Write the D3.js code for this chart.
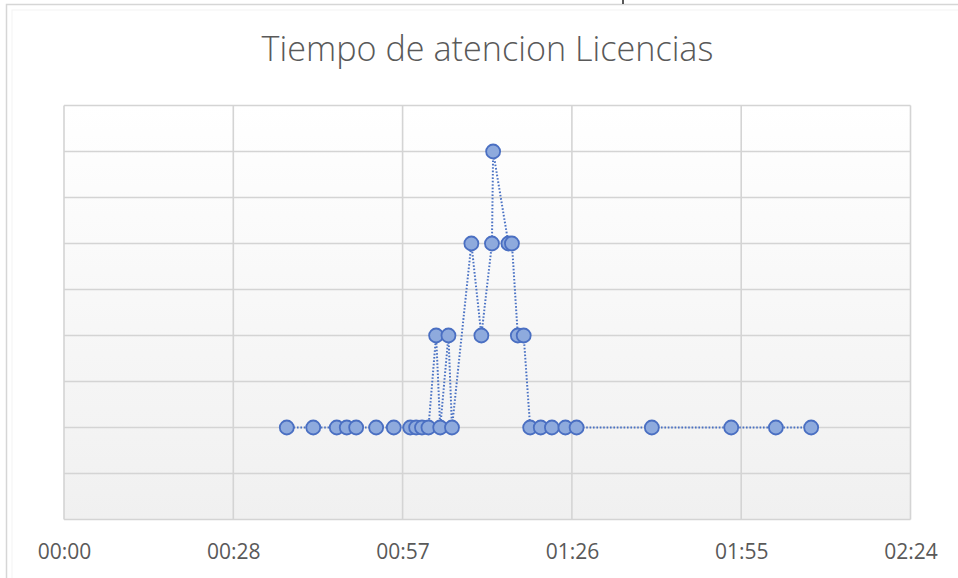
<!DOCTYPE html>
<html>
<head>
<meta charset="utf-8">
<script src="https://cdn.jsdelivr.net/npm/d3@7"></script>
<style>
  html, body { margin: 0; padding: 0; background: #fff; }
  svg { display: block; }
</style>
</head>
<body>
<svg id="chart" width="958" height="578"></svg>
<script>
// ---- Data (minutes since 00:00, and value) ----
const title = "Tiempo de atencion Licencias";
const times = [37.9, 42.4, 46.4, 48.1, 49.7, 53.1, 56.1, 58.9, 59.9, 60.9, 62.0,
               63.3, 64.0, 65.4, 66.0, 69.3, 71.0, 72.8, 73.0, 75.6, 76.2, 77.2,
               78.2, 79.3, 81.1, 83.0, 85.3, 87.2, 100.0, 113.5, 121.1, 127.1];
const values = [1, 1, 1, 1, 1, 1, 1, 1, 1, 1, 1,
                2, 1, 2, 1, 3, 2, 3, 4, 3, 3, 2,
                2, 1, 1, 1, 1, 1, 1, 1, 1, 1];
const xTickValues = [0, 28.8, 57.6, 86.4, 115.2, 144];
const xTickLabels = ["00:00", "00:28", "00:57", "01:26", "01:55", "02:24"];
const yMax = 4.5;
const yStep = 0.5;

const data = times.map((t, i) => ({ t, v: values[i] }));

const svg = d3.select("#chart");
const W = 958, H = 578;
const plot = { left: 64, right: 910.5, top: 105.5, bottom: 519.5 };

const x = d3.scaleLinear().domain([0, 144]).range([plot.left, plot.right]);
const y = d3.scaleLinear().domain([0, yMax]).range([plot.bottom, plot.top]);

// defs
const defs = svg.append("defs");
const grad = defs.append("linearGradient").attr("id", "plotGrad")
  .attr("x1", 0).attr("y1", 0).attr("x2", 0).attr("y2", 1);
grad.append("stop").attr("offset", "0%").attr("stop-color", "#ffffff");
grad.append("stop").attr("offset", "100%").attr("stop-color", "#f0f0f0");

// chart area border
svg.append("rect").attr("x", 6.5).attr("y", 4.5).attr("width", W).attr("height", H)
  .attr("fill", "#fff").attr("stroke", "#d6d6d6").attr("stroke-width", 1.5);
svg.append("rect").attr("x", 12).attr("y", 10).attr("width", W).attr("height", H)
  .attr("fill", "none").attr("stroke", "#f3f3f3").attr("stroke-width", 1);

// small cursor mark at top
svg.append("line").attr("x1", 623).attr("x2", 623).attr("y1", 0).attr("y2", 4)
  .attr("stroke", "#222").attr("stroke-width", 1.5);

// plot area
svg.append("rect").attr("x", plot.left).attr("y", plot.top)
  .attr("width", plot.right - plot.left).attr("height", plot.bottom - plot.top)
  .attr("fill", "url(#plotGrad)");

// horizontal gridlines
const yGrid = d3.range(0, yMax + 1e-9, yStep);
svg.append("g").selectAll("line").data(yGrid).join("line")
  .attr("x1", plot.left).attr("x2", plot.right)
  .attr("y1", d => y(d)).attr("y2", d => y(d))
  .attr("stroke", "#d4d4d4").attr("stroke-width", 1.6);

// vertical gridlines
svg.append("g").selectAll("line").data(xTickValues).join("line")
  .attr("x1", d => x(d)).attr("x2", d => x(d))
  .attr("y1", plot.top).attr("y2", plot.bottom)
  .attr("stroke", "#d4d4d4").attr("stroke-width", 1.6);

// x axis labels
const xAxis = d3.axisBottom(x)
  .tickValues(xTickValues)
  .tickFormat((d, i) => xTickLabels[i])
  .tickSize(0).tickPadding(0);
const gx = svg.append("g").attr("transform", `translate(0,${plot.bottom})`).call(xAxis);
gx.select(".domain").remove();
gx.selectAll("text")
  .attr("y", 39).attr("dy", null)
  .attr("fill", "#595959")
  .style("font-family", "'Open Sans', 'Noto Sans', sans-serif")
  .style("font-size", "21px");

// line
const line = d3.line().x(d => x(d.t)).y(d => y(d.v));
svg.append("path").datum(data)
  .attr("d", line)
  .attr("fill", "none")
  .attr("stroke", "#4a72c4")
  .attr("stroke-width", 2)
  .attr("stroke-dasharray", "1.6 1.8")
  .attr("stroke-linecap", "butt");

// markers
svg.append("g").selectAll("circle").data(data).join("circle")
  .attr("cx", d => x(d.t)).attr("cy", d => y(d.v))
  .attr("r", 7)
  .attr("fill", "#8eaadd")
  .attr("stroke", "#4a6fc2")
  .attr("stroke-width", 1.8);

// title
const t = svg.append("text")
  .attr("x", 487.5).attr("y", 61)
  .attr("text-anchor", "middle")
  .attr("fill", "#595959")
  .style("font-family", "'Open Sans', 'Noto Sans', sans-serif")
  .style("font-weight", 300)
  .style("font-size", "30px")
  .text(title);
const tw = t.node().getComputedTextLength();
if (tw > 0) t.style("font-size", (30 * 452 / tw).toFixed(2) + "px");
</script>
</body>
</html>
